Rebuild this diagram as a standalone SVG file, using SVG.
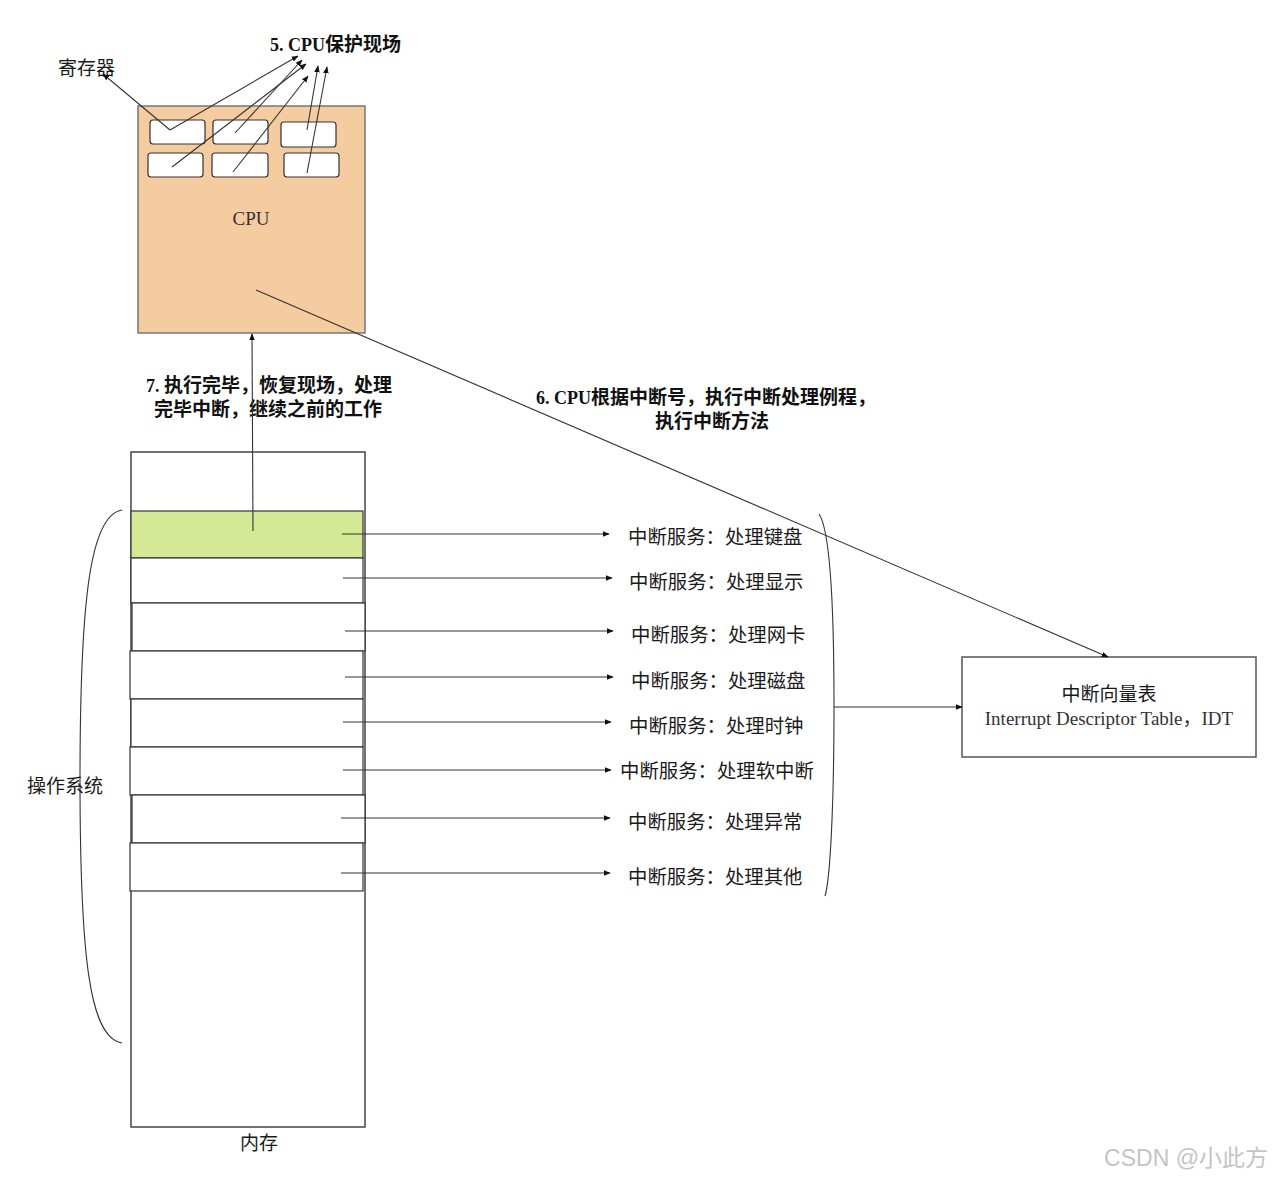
<svg xmlns="http://www.w3.org/2000/svg" width="1274" height="1178" viewBox="0 0 1274 1178">
<defs>
<marker id="ah" viewBox="0 0 10 10" refX="9" refY="5" markerWidth="7" markerHeight="7" orient="auto" markerUnits="userSpaceOnUse">
<path d="M0,1 L10,5 L0,9 Z" fill="#111"/>
</marker>
<style>
.cjk{font-family:"Noto Sans CJK SC","Noto Sans",sans-serif;fill:#1a1a1a}
.ser{font-family:"Liberation Serif","Noto Sans CJK SC",serif;fill:#333}
.bold{font-family:"Liberation Serif","Noto Sans CJK SC",serif;font-weight:bold;fill:#111}
.reg{fill:#fff;stroke:#333;stroke-width:1.2}
.row{fill:#fff;stroke:#333;stroke-width:1.2}
.ln{stroke:#333;stroke-width:1.1;fill:none}
.arr{stroke:#333;stroke-width:1.1;fill:none;marker-end:url(#ah)}
.svc{font-size:19.4px}
</style>
</defs>
<rect width="1274" height="1178" fill="#fff"/>

<g id="cpu">
<rect x="138" y="106" width="227" height="227" fill="#F5CBA0" stroke="#777" stroke-width="1.5"/>
<text x="251" y="225" class="ser" font-size="19" text-anchor="middle">CPU</text>
</g>
<g id="registers">
<rect class="reg" x="150" y="120" width="55" height="24" rx="3"/>
<rect class="reg" x="213" y="120" width="55" height="24" rx="3"/>
<rect class="reg" x="281" y="122" width="55" height="25" rx="3"/>
<rect class="reg" x="148" y="153" width="55" height="24" rx="3"/>
<rect class="reg" x="212" y="153" width="56" height="24" rx="3"/>
<rect class="reg" x="284" y="153" width="55" height="24" rx="3"/>
</g>
<g id="label-registers"><text x="58" y="75" class="cjk" font-size="19">寄存器</text></g>
<g id="label-5"><text x="270" y="51" class="bold" font-size="18">5. CPU<tspan font-family="Noto Sans CJK SC, sans-serif" font-size="19">保护现场</tspan></text></g>

<g id="memory">
<rect x="131" y="452" width="234" height="675" fill="#fff" stroke="#444" stroke-width="1.5"/>
<rect x="131" y="511" width="232" height="47" fill="#D5E896" stroke="#333" stroke-width="1.2"/>
<rect class="row" x="131" y="558" width="232" height="45"/>
<rect class="row" x="132" y="603" width="233" height="48"/>
<rect class="row" x="130" y="651" width="233" height="48"/>
<rect class="row" x="131" y="699" width="232" height="48"/>
<rect class="row" x="130" y="747" width="233" height="48"/>
<rect class="row" x="132" y="795" width="233" height="48"/>
<rect class="row" x="130" y="843" width="233" height="48"/>
<text x="259" y="1150" class="cjk" font-size="19" text-anchor="middle">内存</text>
</g>

<g id="os-brace">
<path class="ln" d="M122,510 C90,515 80,600 80,780 C80,960 90,1038 122,1043"/>
<text x="27" y="793" class="cjk" font-size="19">操作系统</text>
</g>

<g id="services" class="cjk svc">
<text x="628" y="544">中断服务：处理键盘</text>
<text x="629" y="589">中断服务：处理显示</text>
<text x="631" y="642">中断服务：处理网卡</text>
<text x="631" y="688">中断服务：处理磁盘</text>
<text x="629" y="733">中断服务：处理时钟</text>
<text x="620" y="778">中断服务：处理软中断</text>
<text x="628" y="829">中断服务：处理异常</text>
<text x="628" y="884">中断服务：处理其他</text>
</g>

<g id="idt">
<rect x="962" y="657" width="294" height="100" fill="#fff" stroke="#555" stroke-width="1.5"/>
<text x="1109" y="701" class="cjk" font-size="19" text-anchor="middle">中断向量表</text>
<text x="1109" y="725" class="ser" font-size="19" text-anchor="middle">Interrupt Descriptor Table，IDT</text>
</g>

<g id="label-6">
<text x="706" y="404" class="bold" font-size="18" text-anchor="middle">6. CPU<tspan font-family="Noto Sans CJK SC, sans-serif" font-size="19">根据中断号，执行中断处理例程，</tspan></text>
<text x="712" y="428" class="bold" font-size="19" text-anchor="middle" font-family="Noto Sans CJK SC, sans-serif">执行中断方法</text>
</g>
<g id="label-7">
<text x="269" y="392" class="bold" font-size="18" text-anchor="middle">7. <tspan font-family="Noto Sans CJK SC, sans-serif" font-size="19">执行完毕，恢复现场，处理</tspan></text>
<text x="268" y="416" class="bold" font-size="19" text-anchor="middle" font-family="Noto Sans CJK SC, sans-serif">完毕中断，继续之前的工作</text>
</g>

<g id="connectors">
<line class="arr" x1="170" y1="130" x2="103" y2="74"/>
<line class="arr" x1="170" y1="130" x2="298" y2="56"/>
<line class="arr" x1="235" y1="133" x2="302" y2="60"/>
<line class="arr" x1="172" y1="167" x2="306" y2="64"/>
<line class="arr" x1="233" y1="172" x2="308" y2="76"/>
<line class="arr" x1="307" y1="130" x2="318" y2="66"/>
<line class="arr" x1="307" y1="173" x2="327" y2="67"/>
<line class="arr" x1="256" y1="290" x2="1108" y2="657"/>
<line class="arr" x1="253" y1="531" x2="252" y2="334"/>
<line class="arr" x1="342" y1="534" x2="609" y2="534"/>
<line class="arr" x1="343" y1="578" x2="612" y2="578"/>
<line class="arr" x1="345" y1="631" x2="613" y2="631"/>
<line class="arr" x1="345" y1="677" x2="613" y2="677"/>
<line class="arr" x1="343" y1="722" x2="611" y2="722"/>
<line class="arr" x1="343" y1="770" x2="611" y2="770"/>
<line class="arr" x1="341" y1="818" x2="610" y2="818"/>
<line class="arr" x1="341" y1="873" x2="610" y2="873"/>
<path class="ln" d="M819,514 C830,530 834,600 834,705 C834,810 830,880 825,896"/>
<line class="arr" x1="834" y1="707" x2="962" y2="707"/>
</g>

<g id="watermark"><text x="1268" y="1166" font-family="Liberation Sans, Noto Sans CJK SC, sans-serif" font-size="23" fill="#c4c4c4" text-anchor="end">CSDN @小此方</text></g>
</svg>
